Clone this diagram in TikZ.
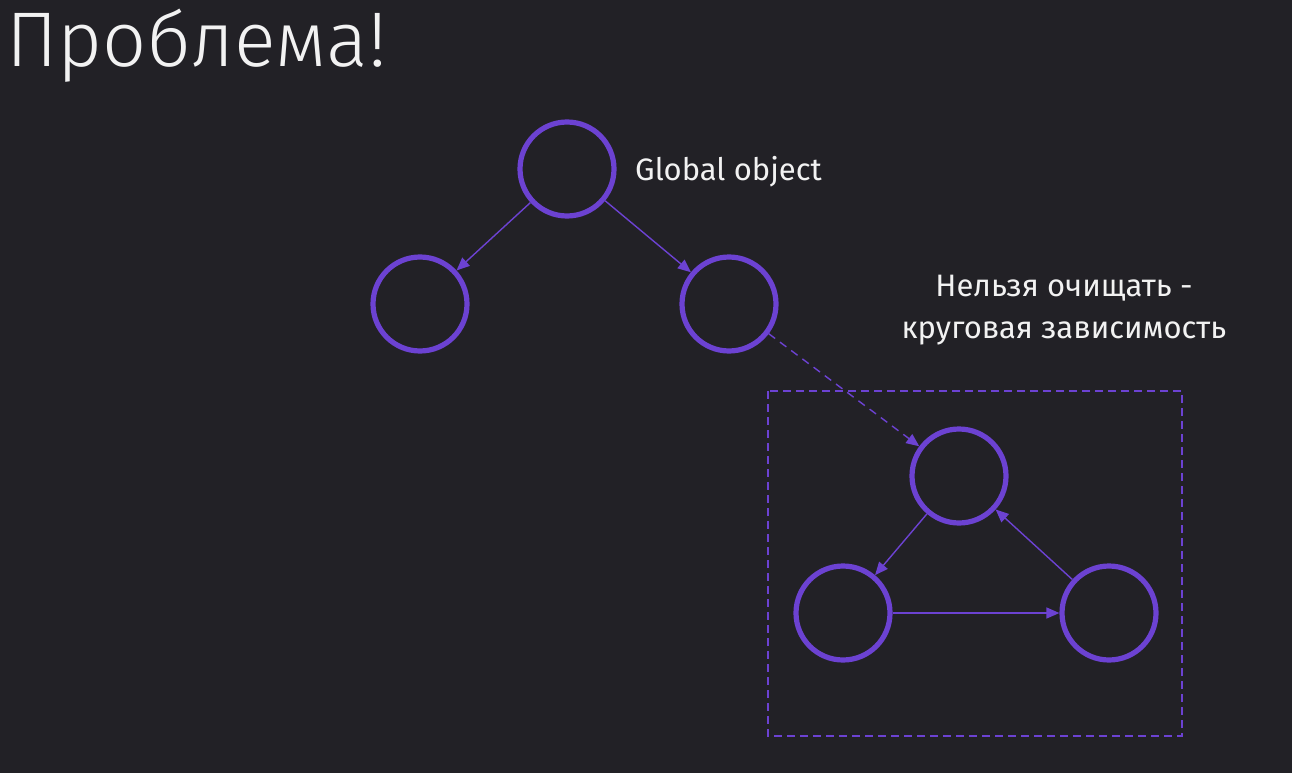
\documentclass[tikz,border=0pt]{standalone}
\usepackage{fontspec}
\setmainfont{Fira Sans}
\newfontfamily\titlefont{Fira Sans Light}
\usetikzlibrary{arrows.meta}
\definecolor{bg}{HTML}{222126}
\definecolor{pur}{HTML}{6C42D2}
\definecolor{txt}{HTML}{F2F2F2}
\begin{document}
\begin{tikzpicture}[x=1pt,y=-1pt,
  obj/.style={circle,draw=pur,line width=5.2pt,minimum size=94pt,inner sep=0pt},
  link/.style={draw=pur,line width=1.4pt,-{Triangle[length=13pt,width=11pt]}},
  dlink/.style={link,dash pattern=on 8pt off 6pt},
  lbl/.style={text=txt,font=\fontsize{31}{42}\selectfont,inner sep=0pt}]
\fill[bg] (0,0) rectangle (1292,773);
\useasboundingbox (0,0) rectangle (1292,773);
\node[text=txt,anchor=base west,inner sep=0pt,font=\titlefont\fontsize{77.5}{80}\selectfont] (title) at (6,67) {Проблема!};
\node[obj] (A) at (567,169) {};
\node[obj] (B) at (420,304) {};
\node[obj] (C) at (729,304) {};
\node[obj] (D) at (959,476) {};
\node[obj] (E) at (843,613) {};
\node[obj] (F) at (1109,613) {};
\node[lbl,anchor=base west] (g) at (635,180) {Global object};
\node[lbl,align=center,anchor=center] (note) at (1064,310) {Нельзя очищать -\\круговая зависимость};
\draw[draw=pur,line width=1.5pt,dash pattern=on 8pt off 5pt] (768,391) rectangle (1182,736);
\draw[link] (A) -- (B);
\draw[link] (A) -- (C);
\draw[dlink] (C) -- (D);
\draw[link] (D) -- (E);
\draw[link] (E) -- (F);
\draw[link] (F) -- (D);
\end{tikzpicture}
\end{document}
